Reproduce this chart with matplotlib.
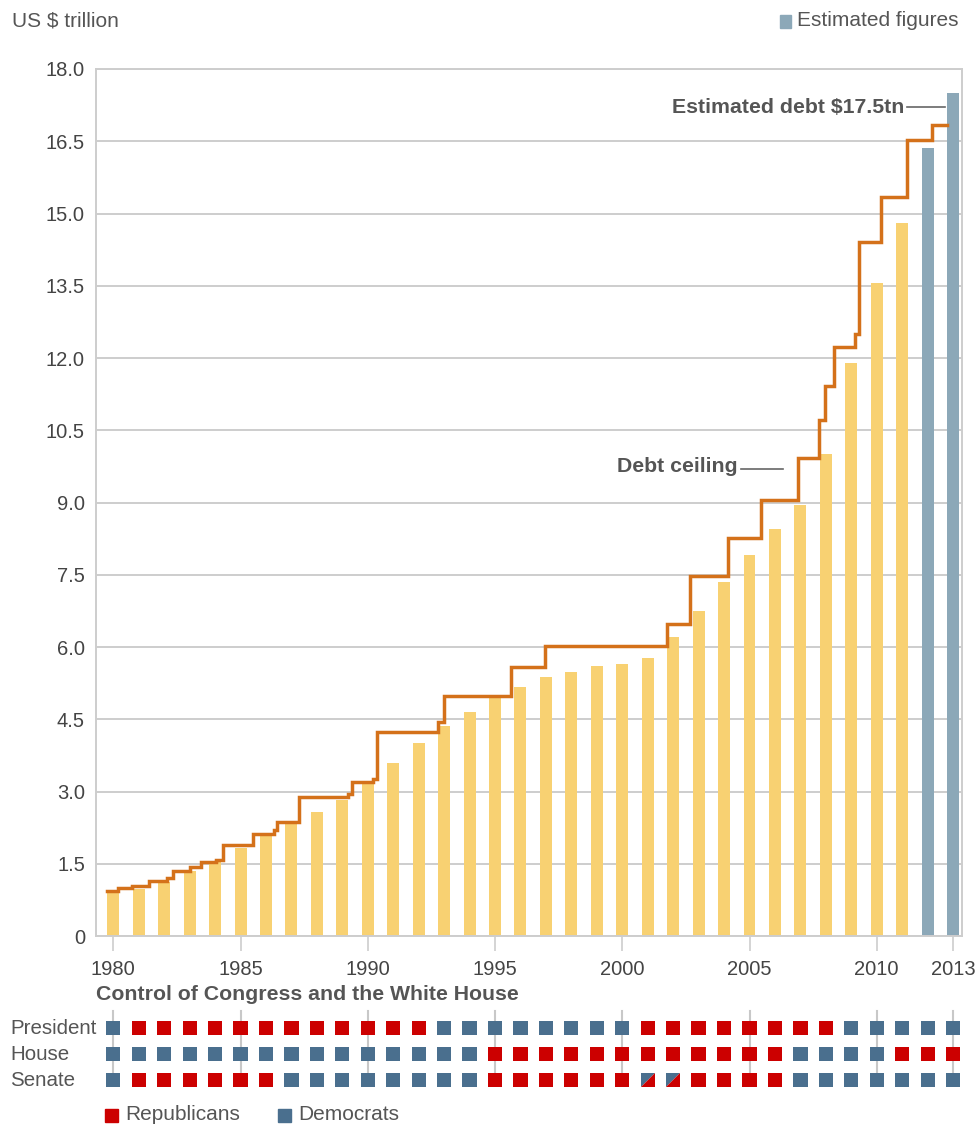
import numpy as np
import matplotlib.pyplot as plt
from matplotlib.patches import Rectangle, Polygon
from matplotlib import transforms

# Gross federal debt, US$ trillion (last two are estimates)
years = np.arange(1980, 2014)
debt = [0.92, 0.99, 1.12, 1.36, 1.55, 1.83, 2.11, 2.33, 2.58, 2.83,
        3.18, 3.60, 4.00, 4.36, 4.65, 4.97, 5.17, 5.37, 5.48, 5.60,
        5.64, 5.77, 6.20, 6.76, 7.36, 7.92, 8.45, 8.95, 10.00, 11.90,
        13.55, 14.81, 16.37, 17.50]
estimated = [False] * 32 + [True] * 2

# Debt ceiling: date a new limit took effect and its level
ceiling_dates = [1979.74, 1980.17, 1980.75, 1981.40, 1982.12, 1982.36, 1983.00,
                 1983.45, 1984.05, 1984.30, 1985.48, 1986.30, 1986.42, 1987.28,
                 1989.23, 1989.37, 1990.22, 1990.36, 1992.76, 1993.00, 1995.62,
                 1996.97, 2001.75, 2002.65, 2004.14, 2005.47, 2006.92, 2007.72,
                 2007.98, 2008.33, 2009.14, 2009.31, 2010.17, 2011.18, 2012.17,
                 2012.76]
ceiling_levels = [0.94, 1.00, 1.04, 1.14, 1.20, 1.36, 1.44,
                  1.54, 1.58, 1.89, 2.13, 2.20, 2.37, 2.88,
                  2.96, 3.20, 3.27, 4.23, 4.45, 4.98, 5.58,
                  6.02, 6.49, 7.47, 8.27, 9.06, 9.92, 10.71,
                  11.43, 12.22, 12.50, 14.41, 15.34, 16.52, 16.84,
                  16.84]

# Party control per year: D = Democrats, R = Republicans, S = split
president = list("D" + "R" * 12 + "D" * 8 + "R" * 8 + "D" * 5)
house = list("D" * 15 + "R" * 12 + "D" * 4 + "R" * 3)
senate = list("D" + "R" * 6 + "D" * 8 + "R" * 6 + "SS" + "R" * 4 + "D" * 7)
row_names = ['President', 'House', 'Senate']

xticks = [1980, 1985, 1990, 1995, 2000, 2005, 2010, 2013]

RED = '#CC0000'
BLUE = '#4A6F8E'
YELLOW = '#F8D172'
EST = '#8CA8B8'
ORANGE = '#D4711A'
GRID = '#CDCDCD'
TXT = '#555555'

plt.rcParams['font.family'] = ['Liberation Sans', 'DejaVu Sans']

W, H = 976, 1126
fig = plt.figure(figsize=(W / 100, H / 100), dpi=100)

# main chart
ax = fig.add_axes([96 / W, 1 - 936.2 / H, (962 - 96) / W, (936.2 - 69) / H])
colors = [EST if e else YELLOW for e in estimated]
ax.bar(years, debt, width=0.47, color=colors, zorder=2)
ax.plot(ceiling_dates, ceiling_levels, drawstyle='steps-post', color=ORANGE,
        lw=2.5, zorder=3, solid_joinstyle='miter')

ax.set_xlim(1979.32, 2013.35)
ax.set_ylim(0, 18)
yt = np.arange(0, 18.01, 1.5)
ax.set_yticks(yt)
ax.set_yticklabels(['0'] + [f'{v:.1f}' for v in yt[1:]])
ax.set_xticks(xticks)
ax.set_xticklabels([str(x) for x in xticks])
ax.grid(axis='y', color=GRID, lw=1.4, zorder=0)
ax.set_axisbelow(True)
for s in ax.spines.values():
    s.set_color(GRID)
    s.set_linewidth(1.4)
ax.tick_params(axis='y', length=0, pad=8, labelsize=14.5, labelcolor='#444444')
ax.tick_params(axis='x', length=11, width=1.2, color=GRID, pad=6,
               labelsize=14.5, labelcolor='#444444')

# annotations
ax.text(2011.1, 17.21, 'Estimated debt $17.5tn', ha='right', va='center',
        fontsize=15.3, fontweight='bold', color=TXT)
ax.plot([2011.17, 2012.7], [17.21, 17.21], color='#666666', lw=1.2)
ax.text(2004.52, 9.74, 'Debt ceiling', ha='right', va='center',
        fontsize=15.3, fontweight='bold', color=TXT)
ax.plot([2004.67, 2006.32], [9.70, 9.70], color='#666666', lw=1.2)

# header texts
fig.text(12 / W, 1 - 21 / H, 'US $ trillion', fontsize=15, color=TXT, va='center')
fig.add_artist(Rectangle((780 / W, 1 - 28 / H), 11 / W, 13 / H,
                         transform=fig.transFigure, color=EST))
fig.text(797 / W, 1 - 21 / H, 'Estimated figures', fontsize=15, color=TXT, va='center')

# control of congress panel
ax2 = fig.add_axes([96 / W, 1 - 1100 / H, (962 - 96) / W, 100 / H])
ax2.set_xlim(ax.get_xlim())
ax2.set_ylim(-0.769, 3.077)
ax2.axis('off')
for x in xticks:
    ax2.plot([x, x], [0, 2.65], color='#C8C8C8', lw=1.5, zorder=1)

sw, sh = 0.56, 0.54
rows = [president, house, senate]
for r, parties in enumerate(rows):
    yc = 2 - r
    for yr, p in zip(years, parties):
        x0, y0 = yr - sw / 2, yc - sh / 2
        if p == 'S':
            ax2.add_patch(Polygon([(x0, y0), (x0, y0 + sh), (x0 + sw, y0 + sh)],
                                  closed=True, color=BLUE, zorder=2, lw=0))
            ax2.add_patch(Polygon([(x0, y0), (x0 + sw, y0), (x0 + sw, y0 + sh)],
                                  closed=True, color=RED, zorder=2, lw=0))
        else:
            ax2.add_patch(Rectangle((x0, y0), sw, sh, color=RED if p == 'R' else BLUE,
                                    zorder=2, lw=0))

trans = transforms.blended_transform_factory(fig.transFigure, ax2.transData)
for r, name in enumerate(row_names):
    ax2.text(10 / W, 2 - r, name, transform=trans, fontsize=14.8, color=TXT,
             va='center', ha='left')

fig.text(96 / W, 1 - 995 / H, 'Control of Congress and the White House',
         fontsize=15.3, fontweight='bold', color=TXT, va='center')

# party legend
fig.add_artist(Rectangle((105 / W, 1 - 1122 / H), 13 / W, 13 / H,
                         transform=fig.transFigure, color=RED))
fig.text(125 / W, 1 - 1115 / H, 'Republicans', fontsize=15, color=TXT, va='center')
fig.add_artist(Rectangle((278 / W, 1 - 1122 / H), 13 / W, 13 / H,
                         transform=fig.transFigure, color=BLUE))
fig.text(298 / W, 1 - 1115 / H, 'Democrats', fontsize=15, color=TXT, va='center')

fig.savefig('out.png', dpi=100)
